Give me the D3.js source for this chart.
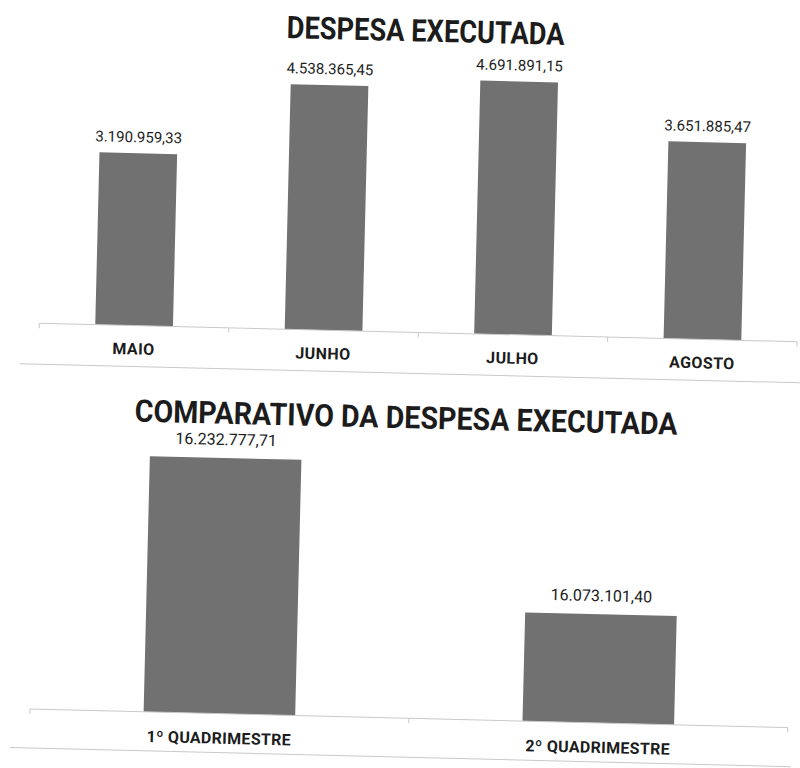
<!DOCTYPE html>
<html>
<head>
<meta charset="utf-8">
<script src="https://cdn.jsdelivr.net/npm/d3@7/dist/d3.min.js"></script>
<style>
  html, body { margin: 0; padding: 0; background: #fff; }
  svg { display: block; }
</style>
</head>
<body>
<svg id="chart" width="800" height="768"></svg>
<script>
// ---- data ----
const months = ["MAIO", "JUNHO", "JULHO", "AGOSTO"];
const monthValues = [3190959.33, 4538365.45, 4691891.15, 3651885.47];
const monthLabels = ["3.190.959,33", "4.538.365,45", "4.691.891,15", "3.651.885,47"];

const quads = ["1º QUADRIMESTRE", "2º QUADRIMESTRE"];
const quadValues = [16232777.71, 16073101.40];
const quadLabels = ["16.232.777,71", "16.073.101,40"];

const title1 = "DESPESA EXECUTADA";
const title2 = "COMPARATIVO DA DESPESA EXECUTADA";

// ---- styles ----
const barColor = "#727171";
const lineColor = "#c9c9c9";
const textColor = "#1c1c1c";

const svg = d3.select("#chart");
const g = svg.append("g").attr("transform", "rotate(1.4, 400, 384)");

// ================= top chart =================
const x1 = d3.scaleBand().domain(months).range([38, 796]).paddingInner(0.59).paddingOuter(0.295);
const y1 = d3.scaleLinear().domain([0, 5000000]).range([332, 62]);
const topData = months.map((m, i) => ({ cat: m, v: monthValues[i], lab: monthLabels[i] }));

g.append("text")
  .attr("x", 417).attr("y", 41)
  .attr("text-anchor", "middle")
  .attr("font-family", "Roboto, 'Open Sans', sans-serif")
  .attr("font-weight", 700).attr("font-size", 31)
  .attr("textLength", 278).attr("lengthAdjust", "spacingAndGlyphs")
  .attr("fill", textColor)
  .text(title1);

g.selectAll("rect.b1").data(topData).enter().append("rect")
  .attr("class", "b1")
  .attr("x", d => x1(d.cat))
  .attr("width", x1.bandwidth())
  .attr("y", d => y1(d.v))
  .attr("height", d => y1(0) - y1(d.v))
  .attr("fill", barColor);

g.selectAll("text.v1").data(topData).enter().append("text")
  .attr("class", "v1")
  .attr("x", d => x1(d.cat) + x1.bandwidth() / 2)
  .attr("y", d => y1(d.v) - 11)
  .attr("text-anchor", "middle")
  .attr("font-family", "Roboto, sans-serif")
  .attr("font-size", 15)
  .attr("fill", textColor)
  .text(d => d.lab);

// axis line + boundary ticks
const ax1 = g.append("g").attr("transform", `translate(0,${y1(0)})`)
  .call(d3.axisBottom(x1).tickSize(0).tickFormat(""));
ax1.select(".domain").attr("stroke", lineColor).attr("d", `M${x1.range()[0]},0H${x1.range()[1]}`);
const bounds1 = d3.range(months.length + 1).map(i => x1.range()[0] + i * x1.step());
g.selectAll("line.t1").data(bounds1).enter().append("line")
  .attr("class", "t1")
  .attr("x1", d => d).attr("x2", d => d)
  .attr("y1", y1(0)).attr("y2", y1(0) + 5)
  .attr("stroke", lineColor);

g.selectAll("text.c1").data(topData).enter().append("text")
  .attr("class", "c1")
  .attr("x", d => x1(d.cat) + x1.bandwidth() / 2)
  .attr("y", 361)
  .attr("text-anchor", "middle")
  .attr("font-family", "Roboto, sans-serif")
  .attr("font-weight", 700).attr("font-size", 16)
  .attr("letter-spacing", 0.4)
  .attr("fill", textColor)
  .text(d => d.cat);

g.append("line")
  .attr("x1", 19).attr("x2", 800).attr("y1", 373).attr("y2", 373)
  .attr("stroke", lineColor);

// ================= bottom chart =================
const x2 = d3.scaleBand().domain(quads).range([38, 796]).paddingInner(0.6).paddingOuter(0.3);
const y2 = d3.scaleLinear().domain([15955000, 16255000]).range([718, 441.8]);
const botData = quads.map((q, i) => ({ cat: q, v: quadValues[i], lab: quadLabels[i] }));

g.append("text")
  .attr("x", 407).attr("y", 428)
  .attr("text-anchor", "middle")
  .attr("font-family", "Roboto, 'Open Sans', sans-serif")
  .attr("font-weight", 700).attr("font-size", 31)
  .attr("textLength", 543).attr("lengthAdjust", "spacingAndGlyphs")
  .attr("fill", textColor)
  .text(title2);

g.selectAll("rect.b2").data(botData).enter().append("rect")
  .attr("class", "b2")
  .attr("x", d => x2(d.cat))
  .attr("width", x2.bandwidth())
  .attr("y", d => y2(d.v))
  .attr("height", d => y2.range()[0] - y2(d.v))
  .attr("fill", barColor);

g.selectAll("text.v2").data(botData).enter().append("text")
  .attr("class", "v2")
  .attr("x", d => x2(d.cat) + x2.bandwidth() / 2)
  .attr("y", d => y2(d.v) - 13)
  .attr("text-anchor", "middle")
  .attr("font-family", "Roboto, sans-serif")
  .attr("font-size", 16)
  .attr("fill", textColor)
  .text(d => d.lab);

const ax2 = g.append("g").attr("transform", `translate(0,${y2.range()[0]})`)
  .call(d3.axisBottom(x2).tickSize(0).tickFormat(""));
ax2.select(".domain").attr("stroke", lineColor).attr("d", `M${x2.range()[0]},0H${x2.range()[1]}`);
const bounds2 = d3.range(quads.length + 1).map(i => x2.range()[0] + i * x2.step());
g.selectAll("line.t2").data(bounds2).enter().append("line")
  .attr("class", "t2")
  .attr("x1", d => d).attr("x2", d => d)
  .attr("y1", y2.range()[0]).attr("y2", y2.range()[0] + 5)
  .attr("stroke", lineColor);

g.selectAll("text.c2").data(botData).enter().append("text")
  .attr("class", "c2")
  .attr("x", d => x2(d.cat) + x2.bandwidth() / 2)
  .attr("y", 748)
  .attr("text-anchor", "middle")
  .attr("font-family", "Roboto, sans-serif")
  .attr("font-weight", 700).attr("font-size", 16)
  .attr("letter-spacing", 0.3)
  .attr("fill", textColor)
  .text(d => d.cat);

g.append("line")
  .attr("x1", 19).attr("x2", 800).attr("y1", 757).attr("y2", 757)
  .attr("stroke", lineColor);
</script>
</body>
</html>
